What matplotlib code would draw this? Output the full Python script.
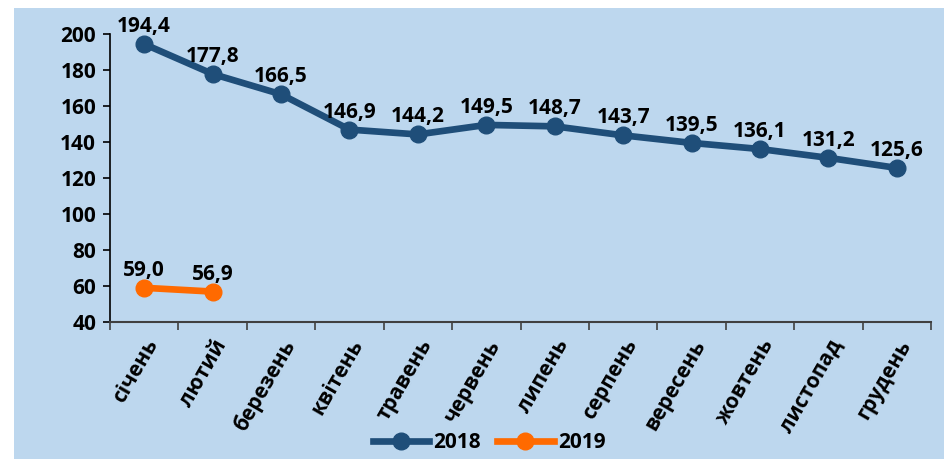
import numpy as np
import matplotlib.pyplot as plt
from matplotlib.patches import Rectangle

# Дані
months = ["січень", "лютий", "березень", "квітень", "травень", "червень",
          "липень", "серпень", "вересень", "жовтень", "листопад", "грудень"]
values_2018 = [194.4, 177.8, 166.5, 146.9, 144.2, 149.5, 148.7, 143.7, 139.5, 136.1, 131.2, 125.6]
values_2019 = [59.0, 56.9]

plt.rcParams['font.family'] = ['Open Sans', 'DejaVu Sans']
plt.rcParams['font.weight'] = 'bold'
fs = 15

fig = plt.figure(figsize=(9.44, 4.59), dpi=100)
bg = '#BDD7EE'
fig.patches.append(Rectangle((14 / 944, 0), 1, 1 - 8 / 459, transform=fig.transFigure,
                             facecolor=bg, edgecolor='none', zorder=-5))

ax = fig.add_axes([110 / 944, 1 - 322 / 459, (931 - 110) / 944, (322 - 34) / 459])
ax.set_facecolor('none')
ax.set_zorder(2)

x = np.arange(len(months))
ax.plot(x, values_2018, color='#1F4E79', lw=4.8, marker='o', ms=12, label='2018', zorder=3)
ax.plot(x[:len(values_2019)], values_2019, color='#FF6A00', lw=4.8, marker='o', ms=12,
        label='2019', zorder=3)

# підписи значень
for xi, v in zip(x, values_2018):
    ax.annotate(f"{v:.1f}".replace('.', ','), (xi, v), xytext=(0, 5), textcoords='offset points',
                ha='center', va='bottom', fontsize=fs, fontweight='bold')
for xi, v in zip(x, values_2019):
    ax.annotate(f"{v:.1f}".replace('.', ','), (xi, v), xytext=(0, 5), textcoords='offset points',
                ha='center', va='bottom', fontsize=fs, fontweight='bold')

ax.set_xlim(-0.5, len(months) - 0.5)
ax.set_ylim(40, 200)
ax.set_yticks(np.arange(40, 201, 20))
ax.tick_params(axis='y', labelsize=fs, length=5, width=1.2, color='black', pad=5)

ax.set_xticks(x)
ax.set_xticklabels(months, rotation=60, ha='right', rotation_mode='anchor', fontsize=fs)
ax.set_xticks(np.arange(-0.5, len(months), 1), minor=True)
ax.tick_params(axis='x', which='major', length=0, pad=10)
ax.tick_params(axis='x', which='minor', length=6, width=1.2, color='#404040')

for side in ['top', 'right']:
    ax.spines[side].set_visible(False)
ax.spines['left'].set_color('black')
ax.spines['left'].set_linewidth(1.2)
ax.spines['bottom'].set_color('#404040')
ax.spines['bottom'].set_linewidth(1.5)

leg = fig.legend(loc='center', bbox_to_anchor=(0.518, 1 - 443 / 459), ncol=2, frameon=False,
                 fontsize=fs, handlelength=2.7, columnspacing=0.8, handletextpad=0.2)

fig.savefig('out.png', dpi=100)
